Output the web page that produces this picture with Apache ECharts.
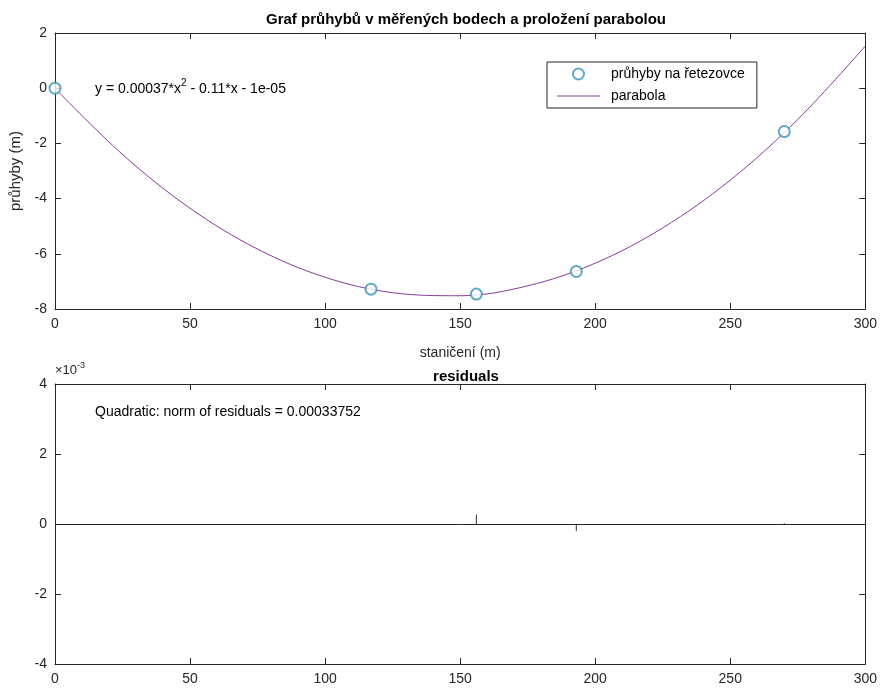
<!DOCTYPE html>
<html>
<head>
<meta charset="utf-8">
<script src="https://cdn.jsdelivr.net/npm/echarts@6/dist/echarts.min.js"></script>
<style>
  html, body { margin: 0; padding: 0; background: #fff; }
  #chart { width: 880px; height: 688px; }
</style>
</head>
<body>
<div id="chart"></div>
<script>
// measured points (staničení, průhyby)
const stationing = [0, 117, 156, 193, 270]
const deflection = [0, -7.28, -7.46, -6.64, -1.57]
// fitted parabola
const curveX = [0, 25, 50, 75, 100, 125, 150, 175, 200, 225, 250, 275, 300]
const curveY = [0, -2.40, -4.35, -5.83, -6.85, -7.41, -7.52, -7.16, -6.34, -5.06, -3.33, -1.13, 1.53]
// residuals at the measured points
const residuals = [0.0, -0.00003, 0.00027, -0.00020, 0.00002]
const xTicks = [0, 50, 100, 150, 200, 250, 300]
const yTicksTop = [-8, -6, -4, -2, 0, 2]
const yTicksBottom = [-4, -2, 0, 2, 4]

const fontFamily = 'Liberation Sans, Arial, sans-serif'
const axisColor = '#262626'

const chart = echarts.init(document.getElementById('chart'))

function boxAxes(gridIndex, dim, min, max, interval, fmt) {
  // MATLAB style box: labelled axis + mirrored one without labels
  const base = {
    gridIndex: gridIndex,
    type: 'value',
    min: min,
    max: max,
    interval: interval,
    splitLine: { show: false },
    axisLine: { show: true, onZero: false, lineStyle: { color: axisColor, width: 1 } },
    axisTick: { show: true, inside: true, length: 6, lineStyle: { color: axisColor } }
  }
  const main = Object.assign({}, base, {
    position: dim === 'x' ? 'bottom' : 'left',
    axisLabel: { color: axisColor, fontSize: 14, fontFamily: fontFamily, margin: 8, formatter: fmt }
  })
  const mirror = Object.assign({}, base, {
    position: dim === 'x' ? 'top' : 'right',
    axisLabel: { show: false }
  })
  return [main, mirror]
}

const xTop = boxAxes(0, 'x', xTicks[0], xTicks[xTicks.length - 1], 50)
xTop[0].name = 'staničení (m)'
xTop[0].nameLocation = 'middle'
xTop[0].nameGap = 37
xTop[0].nameTextStyle = { color: axisColor, fontSize: 14, fontFamily: fontFamily }
const yTop = boxAxes(0, 'y', yTicksTop[0], yTicksTop[yTicksTop.length - 1], 2)
yTop[0].name = 'průhyby (m)'
yTop[0].nameLocation = 'middle'
yTop[0].nameGap = 28
yTop[0].nameTextStyle = { color: axisColor, fontSize: 15, fontFamily: fontFamily }
const xBottom = boxAxes(1, 'x', xTicks[0], xTicks[xTicks.length - 1], 50)
const yBottom = boxAxes(1, 'y', yTicksBottom[0] / 1000, yTicksBottom[yTicksBottom.length - 1] / 1000, 0.002,
  v => String(Math.round(v * 1000)))

chart.setOption({
  animation: false,
  backgroundColor: '#fff',
  textStyle: { fontFamily: fontFamily },
  title: [{
    text: 'Graf průhybů v měřených bodech a proložení parabolou',
    left: 461, top: 7, textAlign: 'center',
    textStyle: { fontSize: 15, fontWeight: 'bold', color: '#000', fontFamily: fontFamily }
  }, {
    text: 'residuals',
    left: 461, top: 364, textAlign: 'center',
    textStyle: { fontSize: 15, fontWeight: 'bold', color: '#000', fontFamily: fontFamily }
  }],
  grid: [
    { left: 55, right: 14, top: 33, height: 276 },
    { left: 55, right: 14, top: 384, height: 280 }
  ],
  xAxis: [xTop[0], xTop[1], xBottom[0], xBottom[1]],
  yAxis: [yTop[0], yTop[1], yBottom[0], yBottom[1]],
  legend: {
    left: 547, top: 62,
    orient: 'vertical',
    padding: [5, 12, 5, 10],
    itemGap: 8,
    itemWidth: 43,
    itemHeight: 11,
    borderColor: axisColor,
    borderWidth: 1,
    borderRadius: 0,
    backgroundColor: '#fff',
    textStyle: { color: '#000', fontSize: 14, fontFamily: fontFamily, padding: [0, 0, 0, 6] },
    data: [
      { name: 'průhyby na řetezovce', icon: 'emptyCircle' },
      { name: 'parabola', icon: 'path://M0,0L43,0L43,1L0,1Z' }
    ]
  },
  graphic: [{
    type: 'text', left: 95, top: 78,
    style: {
      text: '{a|y = 0.00037*x}{s|2}{a| - 0.11*x - 1e-05}',
      rich: {
        a: { fontSize: 14, fontFamily: fontFamily, fill: '#000', lineHeight: 18, verticalAlign: 'bottom' },
        s: { fontSize: 10, fontFamily: fontFamily, fill: '#000', lineHeight: 18, verticalAlign: 'top' }
      }
    }
  }, {
    type: 'text', left: 95, top: 405,
    style: { text: 'Quadratic: norm of residuals = 0.00033752', fontSize: 14, fontFamily: fontFamily, fill: '#000' }
  }, {
    type: 'text', left: 55, top: 361,
    style: {
      text: '{a|×10}{s|-3}',
      rich: {
        a: { fontSize: 13, fontFamily: fontFamily, fill: axisColor, lineHeight: 16, verticalAlign: 'bottom' },
        s: { fontSize: 9, fontFamily: fontFamily, fill: axisColor, lineHeight: 16, verticalAlign: 'top' }
      }
    }
  }],
  series: [{
    name: 'parabola',
    type: 'line',
    xAxisIndex: 0, yAxisIndex: 0,
    data: curveX.map((x, i) => [x, curveY[i]]),
    smooth: 0.35,
    symbol: 'none',
    lineStyle: { color: '#8a3a98', width: 1 },
    itemStyle: { color: '#8a3a98' },
    z: 2
  }, {
    name: 'průhyby na řetezovce',
    type: 'scatter',
    xAxisIndex: 0, yAxisIndex: 0,
    data: stationing.map((x, i) => [x, deflection[i]]),
    symbol: 'emptyCircle',
    symbolSize: 11,
    itemStyle: { color: '#3b93b8', borderColor: '#3b93b8', borderWidth: 1 },
    z: 3
  }, {
    name: 'residuals',
    type: 'bar',
    xAxisIndex: 2, yAxisIndex: 2,
    data: stationing.map((x, i) => [x, residuals[i]]),
    barWidth: 1,
    itemStyle: { color: '#333' },
    markLine: {
      silent: true,
      symbol: 'none',
      label: { show: false },
      lineStyle: { color: axisColor, type: 'solid', width: 1 },
      data: [{ yAxis: 0 }]
    }
  }]
})
</script>
</body>
</html>
